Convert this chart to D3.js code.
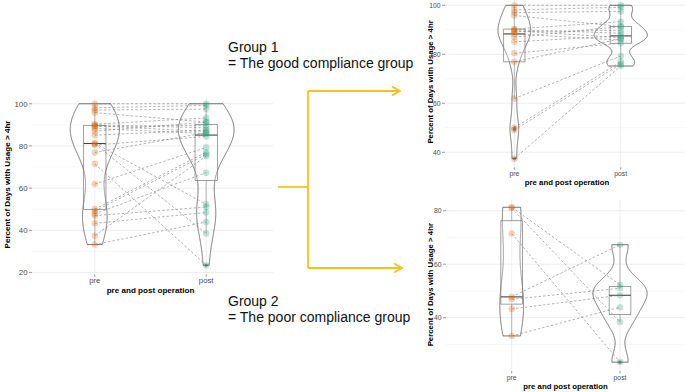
<!DOCTYPE html>
<html>
<head>
<meta charset="utf-8">
<script src="https://cdn.jsdelivr.net/npm/d3@7"></script>
<style>
  body { margin: 0; background: #fff; }
  svg { display: block; font-family: "Liberation Sans", Arial, sans-serif; }
</style>
</head>
<body>
<script>
var phases = ["pre", "post"];

// good compliance group, pre[i] is paired with post[i]
var group1Pre  = [100, 98.1, 97, 95.8, 90.3, 90, 89.6, 89.2, 88.3, 87, 85.1, 80.4, 76.9, 61.9, 50, 49.1, 37.4];
var group1Post = [100, 99.2, 97.5, 91.3, 93.3, 88.6, 86.8, 89.8, 85.8, 91.3, 87.5, 84.5, 86.3, 79.3, 77, 76, 75.2];

// poor compliance group
var group2Pre  = [81.3, 81, 71.5, 47.8, 46.9, 43.3, 33.2];
var group2Post = [52.3, 38.4, 23.4, 67.3, 51, 48.4, 43.9];

var ticksAll = [20, 40, 60, 80, 100];
var minorAll = [30, 50, 70, 90];
var ticksG1 = [40, 60, 80, 100];
var minorG1 = [50, 70, 90];
var ticksG2 = [40, 60, 80];
var minorG2 = [30, 50, 70];

var yTitle = "Percent of Days with Usage > 4hr";
var xTitle = "pre and post operation";
var group1Label = ["Group 1", "= The good compliance group"];
var group2Label = ["Group 2", "= The poor compliance group"];

var colors = { pre: "#D95F02", post: "#1B9E77" };

function init(){

    var w = 685;
    var h = 392;

    var svg = d3.select("body")
            .append("svg")
            .attr("width", w)
            .attr("height", h);

    var allPre = group1Pre.concat(group2Pre);
    var allPost = group1Post.concat(group2Post);

    drawPanel(svg, allPre, allPost, {
        left: 32, right: 273, top: 95.7, bottom: 273.3, xRange: [28, 273],
        ticks: ticksAll, minor: minorAll, tickFont: 7.8, titleFont: 8.1,
        yTitleX: 6.7, xTickY: 283, xTitleY: 293, titleShift: -2
    });
    drawPanel(svg, group1Pre, group1Post, {
        left: 445, right: 685, top: -2.4, bottom: 166.3, xRange: [450.5, 684.6],
        ticks: ticksG1, minor: minorG1, tickFont: 6.8, titleFont: 7.8,
        yTitleX: 430.7, xTickY: 175.5, xTitleY: 185, titleShift: 2
    });
    drawPanel(svg, group2Pre, group2Post, {
        left: 446, right: 685, top: 199.5, bottom: 369.9, xRange: [446.7, 685],
        ticks: ticksG2, minor: minorG2, tickFont: 6.8, titleFont: 7.8,
        yTitleX: 430, xTickY: 379.5, xTitleY: 388.5, titleShift: 0
    });

    // group captions
    [[group1Label, 52], [group2Label, 306]].forEach(function(g){
        svg.append("text")
            .attr("x", 228)
            .attr("y", g[1])
            .attr("font-size", 14)
            .attr("fill", "#111")
            .selectAll("tspan")
            .data(g[0])
            .enter()
            .append("tspan")
            .attr("x", 228)
            .attr("dy", function(d, i){ return i == 0 ? 0 : 16; })
            .text(function(d){ return d; });
    });

    // yellow connector arrows
    var yellow = "#F5C21B";
    var arrows = svg.append("g")
            .attr("fill", "none")
            .attr("stroke", yellow)
            .attr("stroke-width", 1.8);
    arrows.append("path").attr("d", "M278,187H308");
    arrows.append("path").attr("d", "M308,91V268");
    arrows.append("path").attr("d", "M308,91H400");
    arrows.append("path").attr("d", "M308,268H402");
    arrows.append("path").attr("d", "M392,86.5L400,91L392,95.5");
    arrows.append("path").attr("d", "M394,263.5L402,268L394,272.5");
}

function nrd0(vals){
    var s = vals.slice().sort(d3.ascending);
    var sd = d3.deviation(s);
    var iqr = d3.quantile(s, 0.75) - d3.quantile(s, 0.25);
    var lo = Math.min(sd, iqr / 1.34);
    if (!(lo > 0)) lo = sd || 1;
    return 0.9 * lo * Math.pow(s.length, -0.2);
}

function kde(vals){
    var bw = nrd0(vals);
    var lo = d3.min(vals), hi = d3.max(vals);
    var out = [];
    for (var i = 0; i < 512; i++){
        var y = lo + (hi - lo) * i / 511;
        var sum = 0;
        vals.forEach(function(v){
            var z = (y - v) / bw;
            sum += Math.exp(-0.5 * z * z);
        });
        out.push([y, sum / (vals.length * bw * Math.sqrt(2 * Math.PI))]);
    }
    return out;
}

function boxStats(vals){
    var s = vals.slice().sort(d3.ascending);
    var q1 = d3.quantile(s, 0.25), med = d3.quantile(s, 0.5), q3 = d3.quantile(s, 0.75);
    var iqr = q3 - q1;
    var inside = s.filter(function(v){ return v >= q1 - 1.5 * iqr && v <= q3 + 1.5 * iqr; });
    return {
        q1: q1, med: med, q3: q3,
        lo: d3.min(inside), hi: d3.max(inside),
        out: s.filter(function(v){ return v < q1 - 1.5 * iqr || v > q3 + 1.5 * iqr; })
    };
}

function drawPanel(svg, pre, post, o){
    var g = svg.append("g");
    var both = pre.concat(post);
    var ext = d3.extent(both);
    var pad = (ext[1] - ext[0]) * 0.05;

    var x = d3.scalePoint().domain(phases).range(o.xRange).padding(0.6);
    var y = d3.scaleLinear().domain([ext[0] - pad, ext[1] + pad]).range([o.bottom, o.top]);
    var step = x.step();
    var groups = { pre: pre, post: post };

    // grid
    g.selectAll(".minor")
        .data(o.minor)
        .enter()
        .append("line")
        .attr("x1", o.left).attr("x2", o.right)
        .attr("y1", function(d){ return y(d); })
        .attr("y2", function(d){ return y(d); })
        .attr("stroke", "#F3F3F3")
        .attr("stroke-width", 0.6);
    g.selectAll(".major")
        .data(o.ticks)
        .enter()
        .append("line")
        .attr("x1", o.left).attr("x2", o.right)
        .attr("y1", function(d){ return y(d); })
        .attr("y2", function(d){ return y(d); })
        .attr("stroke", "#EBEBEB")
        .attr("stroke-width", 0.9);
    g.selectAll(".vgrid")
        .data(phases)
        .enter()
        .append("line")
        .attr("x1", function(d){ return x(d); })
        .attr("x2", function(d){ return x(d); })
        .attr("y1", o.top).attr("y2", o.bottom)
        .attr("stroke", "#EBEBEB")
        .attr("stroke-width", 0.9);

    // y axis ticks and labels
    g.selectAll(".ytick")
        .data(o.ticks)
        .enter()
        .append("line")
        .attr("x1", o.left - 3).attr("x2", o.left)
        .attr("y1", function(d){ return y(d); })
        .attr("y2", function(d){ return y(d); })
        .attr("stroke", "#555")
        .attr("stroke-width", 0.6);
    g.selectAll(".ylab")
        .data(o.ticks)
        .enter()
        .append("text")
        .attr("x", o.left - 4.5)
        .attr("y", function(d){ return y(d); })
        .attr("dy", "0.35em")
        .attr("text-anchor", "end")
        .attr("font-size", o.tickFont)
        .attr("fill", "#4D4D4D")
        .text(function(d){ return d; });

    // x axis ticks and labels
    g.selectAll(".xtick")
        .data(phases)
        .enter()
        .append("line")
        .attr("x1", function(d){ return x(d); })
        .attr("x2", function(d){ return x(d); })
        .attr("y1", o.bottom + 1).attr("y2", o.bottom + 3.5)
        .attr("stroke", "#555")
        .attr("stroke-width", 0.6);
    g.selectAll(".xlab")
        .data(phases)
        .enter()
        .append("text")
        .attr("x", function(d){ return x(d); })
        .attr("y", o.xTickY)
        .attr("text-anchor", "middle")
        .attr("font-size", o.tickFont)
        .attr("fill", "#4D4D4D")
        .text(function(d){ return d; });

    // titles
    g.append("text")
        .attr("x", (o.left + o.right) / 2 + o.titleShift)
        .attr("y", o.xTitleY)
        .attr("text-anchor", "middle")
        .attr("font-size", o.titleFont)
        .attr("font-weight", "bold")
        .text(xTitle);
    g.append("text")
        .attr("transform", "translate(" + o.yTitleX + "," + ((o.top + o.bottom) / 2) + ") rotate(-90)")
        .attr("dy", "0.35em")
        .attr("text-anchor", "middle")
        .attr("font-size", o.titleFont)
        .attr("font-weight", "bold")
        .text(yTitle);

    // violins (scale = "area": one max density for the panel)
    var dens = {};
    phases.forEach(function(p){ dens[p] = kde(groups[p]); });
    var maxD = d3.max(phases, function(p){ return d3.max(dens[p], function(d){ return d[1]; }); });
    var line = d3.line();
    phases.forEach(function(p){
        var cx = x(p);
        var right = dens[p].map(function(d){ return [cx + d[1] / maxD * 0.25 * step, y(d[0])]; });
        var left = dens[p].map(function(d){ return [cx - d[1] / maxD * 0.25 * step, y(d[0])]; }).reverse();
        g.append("path")
            .attr("d", line(right.concat(left)) + "Z")
            .attr("fill", "none")
            .attr("stroke", "#3a3a3a")
            .attr("stroke-width", 0.7);
    });

    // boxplots
    phases.forEach(function(p){
        var cx = x(p);
        var b = boxStats(groups[p]);
        var bw = 0.1 * step;
        g.append("line")
            .attr("x1", cx).attr("x2", cx)
            .attr("y1", y(b.hi)).attr("y2", y(b.q3))
            .attr("stroke", "#999").attr("stroke-width", 0.7);
        g.append("line")
            .attr("x1", cx).attr("x2", cx)
            .attr("y1", y(b.q1)).attr("y2", y(b.lo))
            .attr("stroke", "#999").attr("stroke-width", 0.7);
        g.append("rect")
            .attr("x", cx - bw)
            .attr("y", y(b.q3))
            .attr("width", 2 * bw)
            .attr("height", y(b.q1) - y(b.q3))
            .attr("fill", "#fff")
            .attr("fill-opacity", 0.25)
            .attr("stroke", "#777")
            .attr("stroke-width", 0.7);
        g.append("line")
            .attr("x1", cx - bw).attr("x2", cx + bw)
            .attr("y1", y(b.med)).attr("y2", y(b.med))
            .attr("stroke", "#444").attr("stroke-width", 1.1);
        groups[p + "Out"] = b.out;
    });

    // paired dashed lines
    g.selectAll(".pair")
        .data(pre)
        .enter()
        .append("line")
        .attr("x1", x("pre"))
        .attr("y1", function(d){ return y(d); })
        .attr("x2", x("post"))
        .attr("y2", function(d, i){ return y(post[i]); })
        .attr("stroke", "#808080")
        .attr("stroke-width", 0.6)
        .attr("stroke-dasharray", "2.5,2");

    // points
    phases.forEach(function(p){
        g.selectAll(".pt-" + p)
            .data(groups[p])
            .enter()
            .append("circle")
            .attr("cx", x(p))
            .attr("cy", function(d){ return y(d); })
            .attr("r", 3.3)
            .attr("fill", colors[p])
            .attr("fill-opacity", 0.27);
        g.selectAll(".out-" + p)
            .data(groups[p + "Out"])
            .enter()
            .append("circle")
            .attr("cx", x(p))
            .attr("cy", function(d){ return y(d); })
            .attr("r", 1.8)
            .attr("fill", "#333")
            .attr("fill-opacity", 0.35);
    });
}

window.onload = init;
</script>
</body>
</html>
